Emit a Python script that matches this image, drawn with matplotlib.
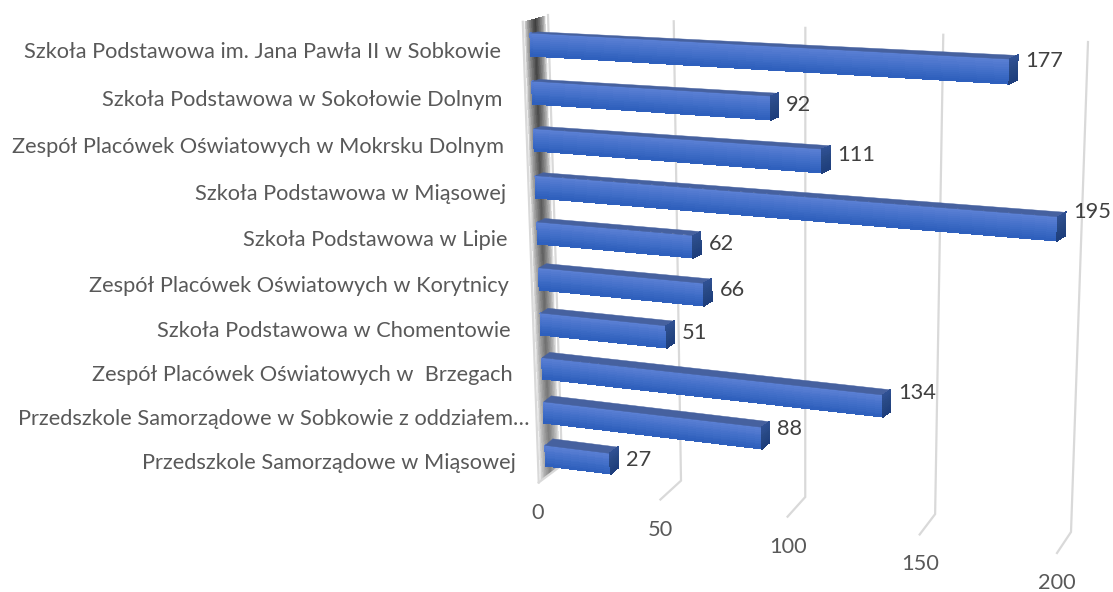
import numpy as np
import matplotlib
matplotlib.use("Agg")
import matplotlib.pyplot as plt
from matplotlib.colors import LinearSegmentedColormap

plt.rcParams['font.family'] = ['Lato', 'DejaVu Sans']

# bottom to top, as on the picture
categories = [
    "Przedszkole Samorządowe w Miąsowej",
    "Przedszkole Samorządowe w Sobkowie z oddziałem…",
    "Zespół Placówek Oświatowych w  Brzegach",
    "Szkoła Podstawowa w Chomentowie",
    "Zespół Placówek Oświatowych w Korytnicy",
    "Szkoła Podstawowa w Lipie",
    "Szkoła Podstawowa w Miąsowej",
    "Zespół Placówek Oświatowych w Mokrsku Dolnym",
    "Szkoła Podstawowa w Sokołowie Dolnym",
    "Szkoła Podstawowa im. Jana Pawła II w Sobkowie",
]
values = [27, 88, 134, 51, 66, 62, 195, 111, 92, 177]
ticks = [0, 50, 100, 150, 200]

LOW, HIGH = 0.26, 0.74  # bar extent inside its category slot
FS = 15.7


def fit(src, dst):
    # plane to pixel homography, least squares
    rows, rhs = [], []
    for (a, b), (x, y) in zip(src, dst):
        rows.append([a, b, 1, 0, 0, 0, -a * x, -b * x])
        rows.append([0, 0, 0, a, b, 1, -a * y, -b * y])
        rhs += [x, y]
    h = np.linalg.lstsq(np.array(rows, float), np.array(rhs, float), rcond=None)[0]

    def project(a, b):
        a, b = np.asarray(a, float), np.asarray(b, float)
        w = h[6] * a + h[7] * b + 1
        return (h[0] * a + h[1] * b + h[2]) / w, (h[3] * a + h[4] * b + h[5]) / w
    return project


# front plane of the bars: (value, category position) -> pixels
front = fit(
    [(0, 9.74), (0, 9.26), (177, 9.74), (177, 9.26), (0, .74), (0, .26), (27, .74), (27, .26),
     (195, 6.74), (195, 6.26), (134, 2.74), (134, 2.26), (88, 1.74), (88, 1.26), (0, 6.74), (0, 6.26)],
    [(531, 32), (531, 55), (1009, 60), (1009, 83), (545, 446), (546, 465), (610, 453), (610, 474),
     (1058, 217), (1058, 241), (883, 395), (883, 417), (762, 428), (762, 449), (536, 177), (536, 200)])
# back wall, s=0 top, s=1 base
wall = fit([(0, 0), (200, 0), (0, 1), (200, 1)], [(548, 15), (1088, 42), (562, 465), (1071, 532)])
# floor, t=0 wall base, t=1 front edge
floor = fit([(0, 0), (200, 0), (0, 1), (200, 1)], [(562, 465), (1071, 532), (538, 483), (1057, 553)])
# side wall, u across (0 outer, 1 inner), s down
side = fit([(0, 0), (1, 0), (0, 1), (1, 1)], [(522, 22), (548, 15), (538, 483), (562, 465)])


def back(v, c):
    # bar depth: front plane shifted up and right
    x, y = front(v, c)
    v, c = np.asarray(v, float), np.asarray(c, float)
    t = v / 200
    k = 1 - c / 10
    return x + 7.5, y - (1 + 6 * k) * (1 - t) - (4 + 1.5 * k) * t


def mesh(ax, X, Y, colors, n, z):
    cmap = LinearSegmentedColormap.from_list("m", colors)
    C = np.linspace(0, 1, n).reshape(-1, 1)
    ax.pcolormesh(X, Y, C, cmap=cmap, vmin=0, vmax=1, shading="flat", zorder=z,
                  edgecolors="face", linewidth=0.1)


fig = plt.figure(figsize=(11.13, 5.92), dpi=100)
ax = fig.add_axes([0, 0, 1, 1])
ax.set_xlim(0, 1113)
ax.set_ylim(592, 0)
ax.axis("off")

# side wall with its dark band
us = np.linspace(0, 1, 41)
ss = np.linspace(0, 1, 61)
U, S = np.meshgrid(us, ss)
wx, wy = side(U, S)
prof = np.clip(1 - np.abs((U[:-1, :-1] + U[1:, 1:]) / 2 - 0.5) / 0.42, 0, 1) ** 0.6
dark = 0.76 - 0.28 * S[:-1, :-1]
ax.pcolormesh(wx, wy, prof * dark, cmap="gray_r", vmin=0, vmax=1, shading="flat", zorder=1)
ax.plot(*side([0.03, 0.03], [0, 1]), color="#d9d9d9", lw=1.6, zorder=2)
ax.plot(*side([0.03, 1], [1, 1]), color="#d9d9d9", lw=1.6, zorder=2)

# grid on the back wall and floor, tick labels
for t in ticks:
    if t == 0:
        ax.plot(*wall([t, t], [0, 1]), color="#d9d9d9", lw=1.6, zorder=2)
    else:
        xw, yw = wall([t, t, t], [0, 1, 1])
        xf, yf = floor([t, t], [0, 1])
        ax.plot(list(xw[:2]) + [xf[1]], list(yw[:2]) + [yf[1]], color="#d9d9d9", lw=1.6, zorder=2,
                solid_joinstyle="miter")
    xf, yf = floor(t, 1)
    ax.text(xf, yf + 30, str(t), color="#595959", fontsize=FS, ha="center", va="center", zorder=6)

# bars
for i, (name, val) in enumerate(zip(categories, values)):
    vs = np.array([0, val])
    cs = np.linspace(i + HIGH, i + LOW, 13)
    V, C = np.meshgrid(vs, cs)
    fx, fy = front(V, C)
    mesh(ax, fx, fy, ["#5b80d4", "#4470c9", "#2f60bd"], 12, 4)

    # top face
    tx = [front(0, i + HIGH)[0], front(val, i + HIGH)[0], back(val, i + HIGH)[0], back(0, i + HIGH)[0]]
    ty = [front(0, i + HIGH)[1], front(val, i + HIGH)[1], back(val, i + HIGH)[1], back(0, i + HIGH)[1]]
    ax.fill(tx, ty, color="#46619f", lw=0.3, zorder=4)

    # end face
    ex = np.array([[front(val, c)[0], back(val, c)[0]] for c in cs])
    ey = np.array([[front(val, c)[1], back(val, c)[1]] for c in cs])
    mesh(ax, ex, ey, ["#2f5093", "#274884", "#1f3f7d"], 12, 4)

    # category label
    x0, y0 = front(0, i + 0.5)
    pad = 15 if name.endswith("…") else 30
    ax.text(x0 - pad, y0 + 7, name, color="#595959", fontsize=FS, ha="right", va="center", zorder=6)

    # value label
    xe, ye = back(val, i + 0.5)
    off = val * (0.035 + 0.06 * (1 - i / 10)) + 6 * (val / 195) ** 3
    ax.text(xe + 8, ye + 5 - off, str(val), color="#404040", fontsize=FS, ha="left", va="center", zorder=6)

fig.savefig("out.png", dpi=100)
